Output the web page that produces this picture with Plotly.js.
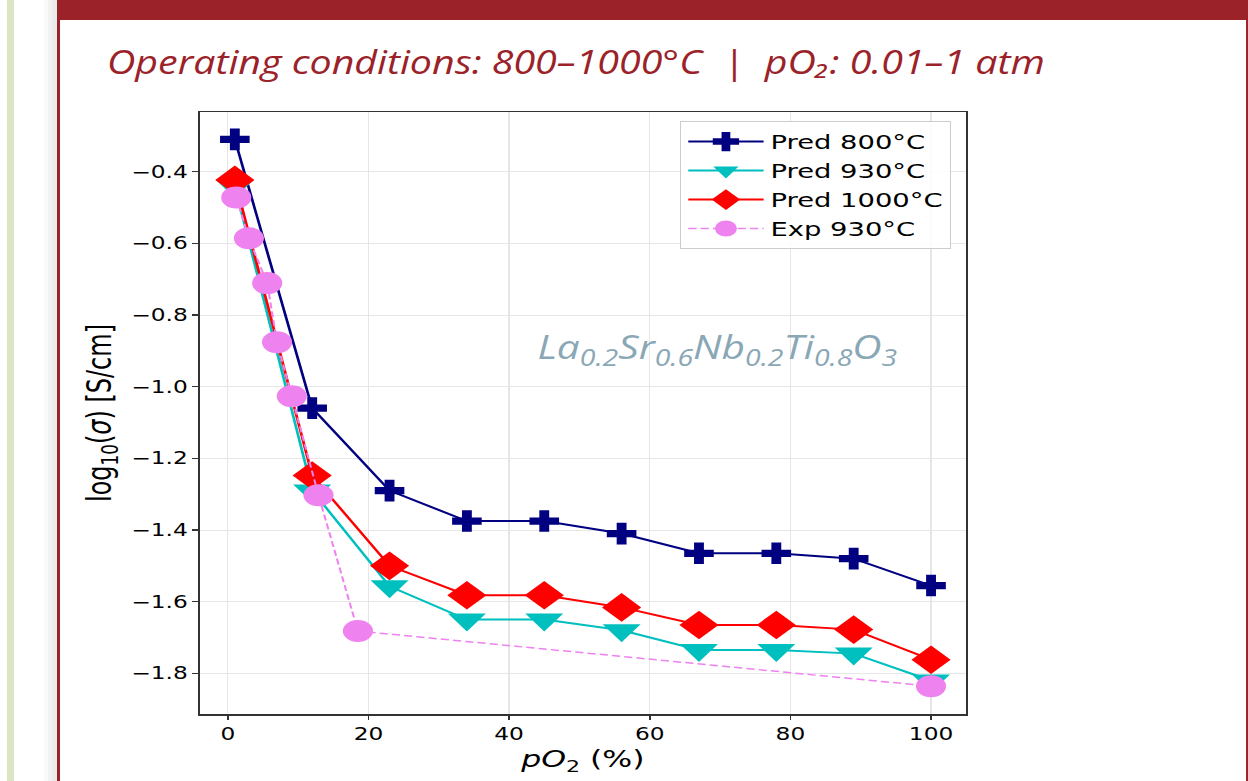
<!DOCTYPE html>
<html>
<head>
<meta charset="utf-8">
<script src="https://cdn.plot.ly/plotly-3.0.1.min.js"></script>
<style>
  html, body { margin: 0; padding: 0; background: #ffffff; width: 1248px; height: 781px; overflow: hidden; }
  #chart { position: absolute; left: 0; top: 0; width: 911px; height: 781px; transform: scaleX(1.37); transform-origin: 0 0; }
  #overlay { position: absolute; left: 0; top: 0; width: 1015px; height: 781px; transform: scaleX(1.2296); transform-origin: 0 0; pointer-events: none; }
</style>
</head>
<body>
<div id="chart"></div>
<div id="overlay"></div>
<script>
// ---- data ----
const predX    = [1, 12, 23, 34, 45, 56, 67, 78, 89, 100];
const pred800  = [-0.31, -1.06, -1.29, -1.375, -1.375, -1.41, -1.465, -1.465, -1.48, -1.555];
const pred930  = [-0.44, -1.29, -1.557, -1.65, -1.65, -1.68, -1.735, -1.735, -1.745, -1.82];
const pred1000 = [-0.423, -1.248, -1.50, -1.582, -1.582, -1.616, -1.665, -1.665, -1.678, -1.762];
const expX     = [1.2, 3.0, 5.6, 7.0, 9.1, 12.9, 18.5, 100];
const exp930   = [-0.472, -0.586, -0.711, -0.876, -1.027, -1.303, -1.682, -1.836];

const seriesNames = ['Pred 800°C', 'Pred 930°C', 'Pred 1000°C', 'Exp 930°C'];
const xTickVals = [0, 20, 40, 60, 80, 100];
const xTickText = ['0', '20', '40', '60', '80', '100'];
const yTickVals = [-1.8, -1.6, -1.4, -1.2, -1.0, -0.8, -0.6, -0.4];
const yTickText = ['\u22121.8', '\u22121.6', '\u22121.4', '\u22121.2', '\u22121.0', '\u22120.8', '\u22120.6', '\u22120.4'];

const titleText = 'Operating conditions: 800–1000°C\u00a0\u00a0|\u00a0\u00a0pO₂: 0.01–1 atm';
const formulaText = 'La<sub>0.2</sub>Sr<sub>0.6</sub>Nb<sub>0.2</sub>Ti<sub>0.8</sub>O<sub>3</sub>';

const FONT = 'DejaVu Sans, sans-serif';

const traces = [
  { x: predX, y: pred800, name: seriesNames[0], type: 'scatter', mode: 'lines+markers',
    line: { color: '#000080', width: 2 },
    marker: { symbol: 'cross', size: 18, color: '#000080' } },
  { x: predX, y: pred930, name: seriesNames[1], type: 'scatter', mode: 'lines+markers',
    line: { color: '#00bfbf', width: 2 },
    marker: { symbol: 'triangle-down', size: 24, color: '#00bfbf' } },
  { x: predX, y: pred1000, name: seriesNames[2], type: 'scatter', mode: 'lines+markers',
    line: { color: '#ff0000', width: 2 },
    marker: { symbol: 'diamond', size: 22, color: '#ff0000' } },
  { x: expX, y: exp930, name: seriesNames[3], type: 'scatter', mode: 'lines+markers',
    line: { color: '#ee82ee', width: 1.5, dash: '6px,3px' },
    marker: { symbol: 'circle', size: 22, color: '#ee82ee' } }
];

const layout = {
  width: 911, height: 781,
  margin: { l: 146, r: 206, t: 112, b: 67 },
  paper_bgcolor: 'rgba(0,0,0,0)',
  plot_bgcolor: '#ffffff',
  font: { family: FONT, color: '#000000' },
  showlegend: true,
  legend: {
    x: 0.981, y: 0.985, xanchor: 'right', yanchor: 'top',
    bgcolor: 'rgba(255,255,255,0.85)', bordercolor: '#cccccc', borderwidth: 1,
    font: { family: FONT, size: 20, color: '#000000' },
    itemwidth: 55
  },
  xaxis: {
    range: [-3.95, 104.95],
    tickmode: 'array', tickvals: xTickVals, ticktext: xTickText,
    ticks: 'outside', ticklen: 4, tickwidth: 1.2, tickcolor: '#333333',
    tickfont: { family: FONT, size: 17, color: '#000000' },
    showline: true, linecolor: '#333333', linewidth: 1.5, mirror: true,
    showgrid: true, gridcolor: '#e6e6e6', gridwidth: 1,
    zeroline: false,
    title: { text: '<i>pO</i><sub>2</sub> (%)', font: { family: FONT, size: 23, color: '#000000' }, standoff: 8 }
  },
  yaxis: {
    range: [-1.9135, -0.2335],
    tickmode: 'array', tickvals: yTickVals, ticktext: yTickText,
    ticks: 'outside', ticklen: 4, tickwidth: 1.2, tickcolor: '#333333',
    tickfont: { family: FONT, size: 17, color: '#000000' },
    showline: true, linecolor: '#333333', linewidth: 1.5, mirror: true,
    showgrid: true, gridcolor: '#e6e6e6', gridwidth: 1,
    zeroline: false,
    title: { text: 'log<sub>10</sub>(<i>σ</i>) [S/cm]', font: { family: FONT, size: 24, color: '#000000' }, standoff: 7 }
  }
};

Plotly.newPlot('chart', traces, layout, { displayModeBar: false, staticPlot: true });

// ---- slide decoration, title and formula label (overlay, axis units = page pixels) ----
const RED = '#9b2229';
const shapes = [
  { type: 'rect', x0: 7, x1: 14, y0: 0, y1: 781, fillcolor: '#dbe5c3', line: { width: 0 } },
  { type: 'rect', x0: 44, x1: 48, y0: 0, y1: 781, fillcolor: 'rgba(0,0,0,0.025)', line: { width: 0 } },
  { type: 'rect', x0: 48, x1: 52, y0: 0, y1: 781, fillcolor: 'rgba(0,0,0,0.05)', line: { width: 0 } },
  { type: 'rect', x0: 52, x1: 57, y0: 0, y1: 781, fillcolor: 'rgba(0,0,0,0.08)', line: { width: 0 } },
  { type: 'rect', x0: 57, x1: 1248, y0: 0, y1: 20, fillcolor: RED, line: { width: 0 } },
  { type: 'rect', x0: 57, x1: 60, y0: 0, y1: 781, fillcolor: RED, line: { width: 0 } },
  { type: 'rect', x0: 1246, x1: 1248, y0: 0, y1: 781, fillcolor: RED, line: { width: 0 } }
];

const overlayLayout = {
  width: 1015, height: 781,
  margin: { l: 0, r: 0, t: 0, b: 0 },
  paper_bgcolor: 'rgba(0,0,0,0)', plot_bgcolor: 'rgba(0,0,0,0)',
  showlegend: false,
  xaxis: { range: [0, 1248], visible: false, fixedrange: true },
  yaxis: { range: [781, 0], visible: false, fixedrange: true },
  shapes: shapes,
  title: {
    text: titleText,
    x: 107 / 1248, xanchor: 'left', xref: 'container',
    y: 1 - 63 / 781, yanchor: 'middle', yref: 'container',
    font: { family: 'Open Sans, sans-serif', size: 32, color: RED, style: 'italic' }
  },
  annotations: [
    { x: 717, y: 348, xref: 'x', yref: 'y', text: formulaText, showarrow: false,
      xanchor: 'center', yanchor: 'middle',
      font: { family: 'Open Sans, sans-serif', size: 33, color: '#8aa7b6', style: 'italic' } }
  ]
};

Plotly.newPlot('overlay', [], overlayLayout, { displayModeBar: false, staticPlot: true });
</script>
</body>
</html>
